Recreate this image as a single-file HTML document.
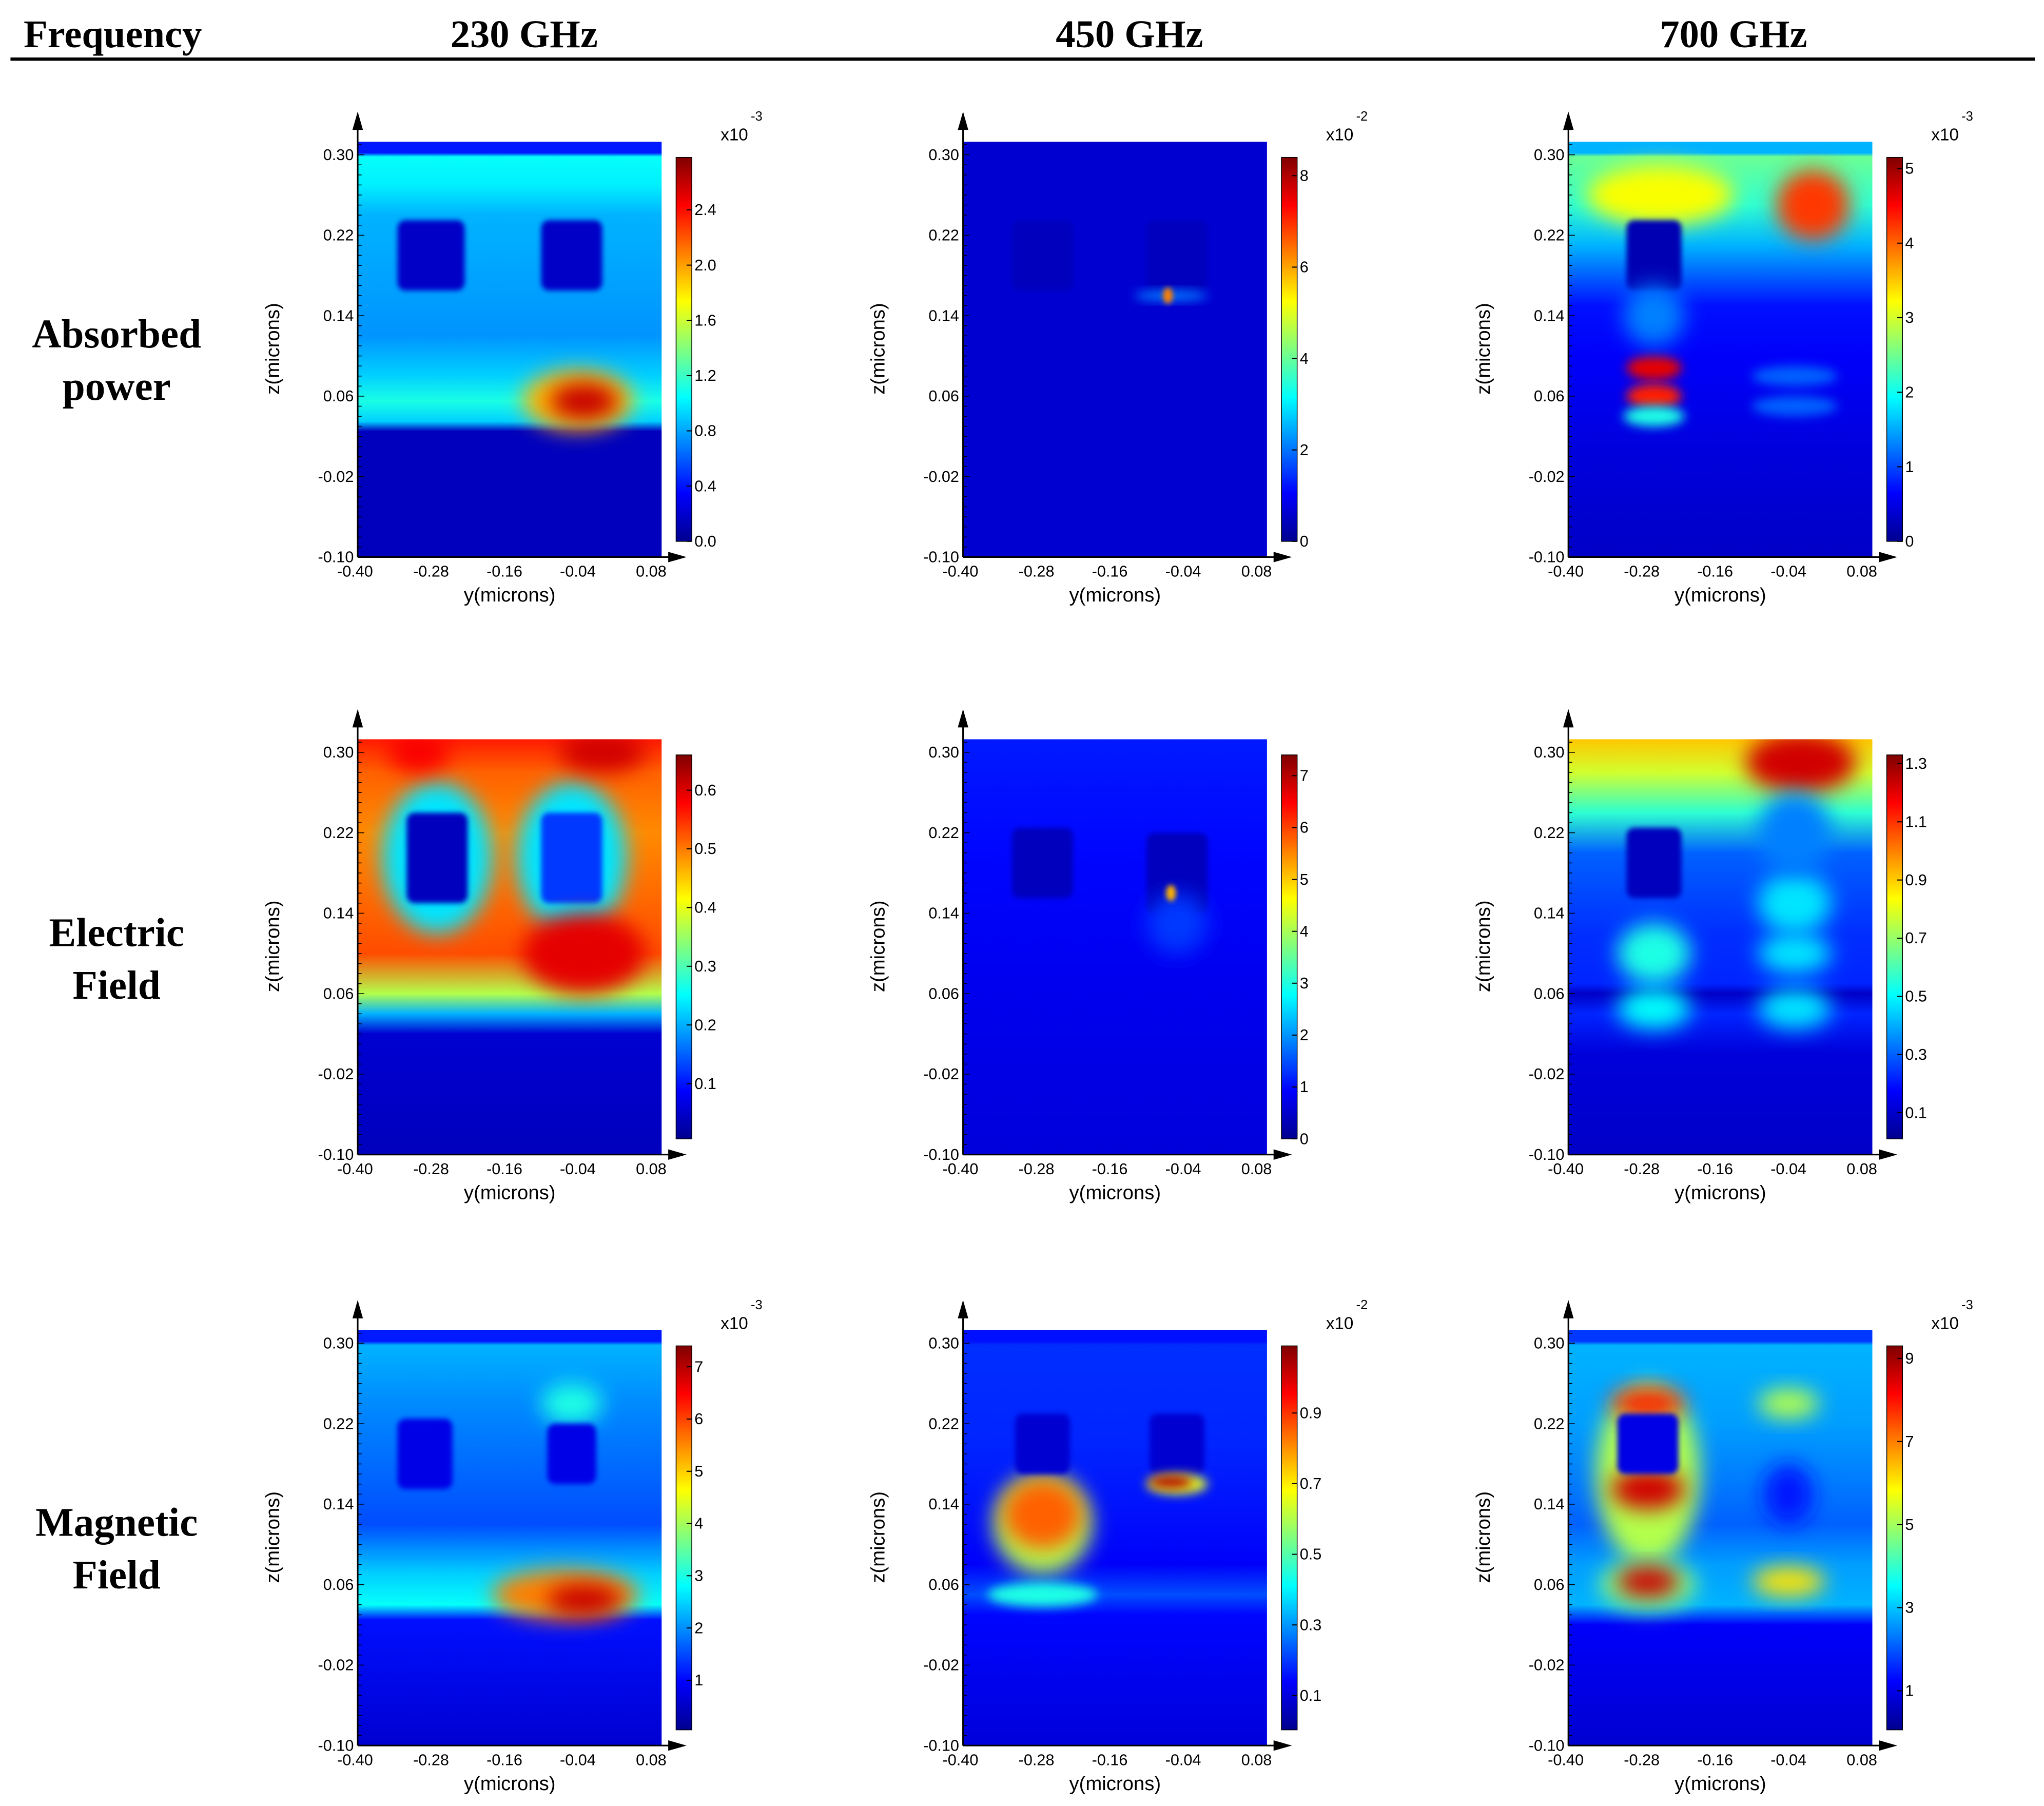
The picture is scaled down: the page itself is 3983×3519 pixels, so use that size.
<!DOCTYPE html>
<html><head><meta charset="utf-8">
<style>
html,body{margin:0;padding:0;background:#fff;}
svg{display:block;}
text{font-family:"Liberation Sans",sans-serif;}
.serif{font-family:"Liberation Serif",serif;font-weight:bold;}
</style></head>
<body>
<svg id="fig" width="3983" height="3519" viewBox="0 0 1560 1378" xmlns="http://www.w3.org/2000/svg">
<defs>
<filter id="b4" x="-50%" y="-50%" width="200%" height="200%"><feGaussianBlur stdDeviation="4"/></filter>
<filter id="b8" x="-50%" y="-50%" width="200%" height="200%"><feGaussianBlur stdDeviation="8"/></filter>
<filter id="b2" x="-50%" y="-50%" width="200%" height="200%"><feGaussianBlur stdDeviation="2"/></filter>
<linearGradient id="jetbar" x1="0" y1="1" x2="0" y2="0">
<stop offset="0" stop-color="#00008f"/><stop offset="0.125" stop-color="#0000ff"/><stop offset="0.375" stop-color="#00ffff"/><stop offset="0.625" stop-color="#ffff00"/><stop offset="0.875" stop-color="#ff0000"/><stop offset="1" stop-color="#800000"/>
</linearGradient>
</defs>
<g id="header">
<text class="serif" x="18" y="36" font-size="30">Frequency</text>
<text class="serif" x="400" y="36" font-size="30" text-anchor="middle">230 GHz</text>
<text class="serif" x="862" y="36" font-size="30" text-anchor="middle">450 GHz</text>
<text class="serif" x="1323" y="36" font-size="30" text-anchor="middle">700 GHz</text>
<line x1="8" y1="45" x2="1553" y2="45" stroke="#000" stroke-width="2.5"/>
<text class="serif" x="89" y="265" font-size="31" text-anchor="middle"><tspan x="89">Absorbed</tspan><tspan x="89" dy="40">power</tspan></text>
<text class="serif" x="89" y="722" font-size="31" text-anchor="middle"><tspan x="89">Electric</tspan><tspan x="89" dy="40">Field</tspan></text>
<text class="serif" x="89" y="1172" font-size="31" text-anchor="middle"><tspan x="89">Magnetic</tspan><tspan x="89" dy="40">Field</tspan></text>
</g>
</svg>
<script>
// axis data
const yTicks = [0.30, 0.22, 0.14, 0.06, -0.02, -0.10];
const xTicks = [-0.40, -0.28, -0.16, -0.04, 0.08];
const colX = [273, 735, 1197];
const rowY = [108, 564, 1015];
// colorbar data
const cbRange = [[0,2.78],[0,8.4],[0,5.15],[0.006,0.66],[0,7.4],[0.01,1.33],[0.05,7.4],[0.003,1.09],[0.06,9.3]];
const cbTicks = [
 ["0.0","0.4","0.8","1.2","1.6","2.0","2.4"],["0","2","4","6","8"],["0","1","2","3","4","5"],
 ["0.1","0.2","0.3","0.4","0.5","0.6"],["0","1","2","3","4","5","6","7"],["0.1","0.3","0.5","0.7","0.9","1.1","1.3"],
 ["1","2","3","4","5","6","7"],["0.1","0.3","0.5","0.7","0.9"],["1","3","5","7","9"]];
const cbExp = ["-3","-2","-3",null,null,null,"-3","-2","-3"];
// background bands: [z, normalized value]
const bands = [
 [[0.313,0.15],[0.302,0.15],[0.298,0.38],[0.27,0.36],[0.24,0.30],[0.12,0.27],[0.08,0.33],[0.055,0.40],[0.035,0.33],[0.025,0.06],[-0.10,0.06]],
 [[0.313,0.08],[-0.10,0.08]],
 [[0.313,0.30],[0.302,0.30],[0.298,0.48],[0.25,0.42],[0.21,0.30],[0.15,0.14],[0.10,0.12],[0.0,0.09],[-0.10,0.07]],
 [[0.313,0.85],[0.28,0.78],[0.22,0.74],[0.10,0.80],[0.06,0.55],[0.04,0.30],[0.02,0.08],[-0.10,0.06]],
 [[0.313,0.15],[0.20,0.13],[0.08,0.11],[-0.10,0.09]],
 [[0.313,0.68],[0.28,0.58],[0.24,0.42],[0.20,0.22],[0.12,0.17],[0.07,0.16],[0.06,0.07],[0.04,0.16],[0.0,0.09],[-0.10,0.07]],
 [[0.313,0.15],[0.302,0.15],[0.298,0.30],[0.24,0.26],[0.12,0.20],[0.07,0.33],[0.04,0.38],[0.025,0.14],[-0.10,0.08]],
 [[0.313,0.14],[0.302,0.14],[0.298,0.17],[0.20,0.16],[0.08,0.12],[0.05,0.20],[0.03,0.13],[-0.10,0.09]],
 [[0.313,0.18],[0.302,0.18],[0.298,0.30],[0.22,0.28],[0.12,0.22],[0.08,0.28],[0.04,0.30],[0.02,0.12],[-0.10,0.08]]];
// features: [y, z, ry, rz, value, shape(0 ellipse,1 rect)]
const blobs = [
 [[-0.28,0.20,0.055,0.035,0.07,1],[-0.05,0.20,0.05,0.035,0.07,1],[-0.04,0.056,0.09,0.03,0.70,0],[-0.03,0.055,0.055,0.018,0.93,0]],
 [[-0.27,0.20,0.05,0.035,0.06,1],[-0.05,0.20,0.05,0.035,0.06,1],[-0.06,0.16,0.06,0.005,0.25,0],[-0.065,0.16,0.008,0.008,0.75,0]],
 [[-0.25,0.26,0.12,0.03,0.62,0],[0.0,0.25,0.06,0.035,0.82,0],[-0.26,0.20,0.045,0.035,0.05,1],[-0.26,0.088,0.045,0.012,0.90,0],[-0.26,0.06,0.045,0.012,0.85,0],[-0.26,0.04,0.05,0.01,0.40,0],[-0.03,0.08,0.07,0.01,0.22,0],[-0.03,0.05,0.07,0.01,0.22,0],[-0.26,0.14,0.05,0.03,0.25,0]],
 [[-0.27,0.195,0.09,0.075,0.35,0],[-0.27,0.195,0.05,0.045,0.06,1],[-0.05,0.195,0.09,0.075,0.35,0],[-0.05,0.195,0.05,0.045,0.18,1],[-0.03,0.10,0.10,0.04,0.90,0],[0.0,0.30,0.07,0.02,0.92,0],[-0.30,0.30,0.05,0.02,0.88,0]],
 [[-0.27,0.19,0.05,0.035,0.06,1],[-0.05,0.18,0.05,0.04,0.06,1],[-0.05,0.13,0.05,0.03,0.18,0],[-0.06,0.16,0.008,0.008,0.70,0]],
 [[-0.02,0.29,0.09,0.03,0.92,0],[-0.26,0.19,0.045,0.035,0.06,1],[-0.26,0.10,0.06,0.03,0.40,0],[-0.26,0.045,0.06,0.02,0.38,0],[-0.03,0.15,0.06,0.03,0.35,0],[-0.03,0.10,0.06,0.02,0.35,0],[-0.03,0.045,0.06,0.02,0.35,0],[-0.03,0.22,0.06,0.04,0.25,0]],
 [[-0.29,0.19,0.045,0.035,0.10,1],[-0.05,0.24,0.05,0.02,0.40,0],[-0.05,0.19,0.04,0.03,0.10,1],[-0.06,0.05,0.12,0.025,0.75,0],[-0.03,0.045,0.06,0.015,0.93,0]],
 [[-0.27,0.12,0.08,0.05,0.55,0],[-0.27,0.13,0.065,0.035,0.78,0],[-0.27,0.20,0.045,0.03,0.08,1],[-0.05,0.20,0.045,0.03,0.08,1],[-0.05,0.16,0.05,0.01,0.60,0],[-0.06,0.162,0.035,0.006,0.95,0],[-0.27,0.05,0.09,0.012,0.40,0]],
 [[-0.27,0.17,0.085,0.09,0.55,0],[-0.27,0.155,0.06,0.02,0.92,0],[-0.27,0.24,0.06,0.015,0.85,0],[-0.27,0.20,0.05,0.03,0.10,1],[-0.27,0.06,0.08,0.025,0.50,0],[-0.27,0.063,0.05,0.015,0.92,0],[-0.04,0.063,0.06,0.015,0.65,0],[-0.04,0.24,0.05,0.015,0.55,0],[-0.04,0.15,0.04,0.03,0.15,0]]];

const NS="http://www.w3.org/2000/svg";
const svg=document.getElementById('fig');
function jet(v){v=Math.max(0,Math.min(1,v));
 const r=Math.min(4*v-1.5,-4*v+4.5),g=Math.min(4*v-0.5,-4*v+3.5),b=Math.min(4*v+0.5,-4*v+2.5);
 const c=x=>Math.round(255*Math.max(0,Math.min(1,x)));return `rgb(${c(r)},${c(g)},${c(b)})`;}
function mk(tag,attrs,parent){const e=document.createElementNS(NS,tag);for(const k in attrs)e.setAttribute(k,attrs[k]);parent.appendChild(e);return e;}
const names=["absorbed-230","absorbed-450","absorbed-700","electric-230","electric-450","electric-700","magnetic-230","magnetic-450","magnetic-700"];
for(let p=0;p<9;p++){
 const ox=colX[p%3],oy=rowY[Math.floor(p/3)];
 const X=y=>ox+(y+0.40)/0.48*224, Y=z=>oy+10+(0.30-z)/0.40*307;
 const g=mk('g',{},svg);
 
 
 const cid='clip'+p;
 const cp=mk('clipPath',{id:cid},g);mk('rect',{x:ox,y:oy,width:232,height:317},cp);
 const gid='bg'+p;
 const lg=mk('linearGradient',{id:gid,x1:0,y1:oy,x2:0,y2:oy+317,gradientUnits:'userSpaceOnUse'},g);
 bands[p].forEach(b=>mk('stop',{offset:((Y(b[0])-oy)/317).toFixed(4),'stop-color':jet(b[1])},lg));
 const hm=mk('g',{'clip-path':`url(#${cid})`},g);
 
 
 mk('rect',{x:ox,y:oy,width:232,height:317,fill:`url(#${gid})`},hm);
 blobs[p].forEach(b=>{
  const rx=b[2]/0.48*224, ry=b[3]/0.40*307;
  let e;
  if(b[5]===1){
   e=mk('rect',{x:X(b[0])-rx,y:Y(b[1])-ry,width:2*rx,height:2*ry,rx:6,fill:jet(b[4]),filter:'url(#b2)'},hm);
  } else {
   e=mk('ellipse',{cx:X(b[0]),cy:Y(b[1]),rx:rx,ry:ry,fill:jet(b[4]),filter:(rx<6?'url(#b2)':(ry<10?'url(#b4)':'url(#b8)'))},hm);
  }
  
  
 });
 const ax=mk('g',{},g);
 
 
 mk('line',{x1:ox,y1:oy+317,x2:ox,y2:oy-15,stroke:'#000','stroke-width':1.2},ax);
 mk('polygon',{points:`${ox-4},${oy-9} ${ox+4},${oy-9} ${ox},${oy-23}`,fill:'#000'},ax);
 mk('line',{x1:ox,y1:oy+317,x2:ox+242,y2:oy+317,stroke:'#000','stroke-width':1.2},ax);
 mk('polygon',{points:`${ox+237},${oy+313} ${ox+237},${oy+321} ${ox+251},${oy+317}`,fill:'#000'},ax);
 for(let k=0;k<=41;k++){const z=-0.10+k*0.01;const yy=Y(z);const big=(k%8===0);
  mk('line',{x1:ox,y1:yy,x2:ox+(big?5:3),y2:yy,stroke:'#000','stroke-width':0.6},ax);}
 yTicks.forEach(t=>{const tx=mk('text',{x:ox-3,y:Y(t)+4,'font-size':12,'text-anchor':'end'},ax);tx.textContent=t.toFixed(2);
  });
 xTicks.forEach(t=>{const tx=mk('text',{x:X(t)+(t===-0.40?-2:0),y:oy+332,'font-size':12,'text-anchor':'middle'},ax);tx.textContent=t.toFixed(2);
  });
 const xl=mk('text',{x:ox+116,y:oy+351,'font-size':15,'text-anchor':'middle'},ax);xl.textContent='y(microns)';
 
 const yl=mk('text',{x:ox-60,y:oy+158,'font-size':15,'text-anchor':'middle',transform:`rotate(-90 ${ox-60} ${oy+158})`},ax);yl.textContent='z(microns)';
 
 const cb=mk('g',{},g);
 
 
 const cx=ox+243, ct=oy+12, cbh=293;
 mk('rect',{x:cx,y:ct,width:12,height:cbh,fill:'url(#jetbar)',stroke:'#000','stroke-width':0.6},cb);
 const [mn,mx]=cbRange[p];
 cbTicks[p].forEach(s=>{const v=parseFloat(s);const yy=ct+cbh-(v-mn)/(mx-mn)*cbh;
  mk('line',{x1:cx+8,y1:yy,x2:cx+12,y2:yy,stroke:'#000','stroke-width':0.8},cb);
  const tx=mk('text',{x:cx+14,y:yy+4,'font-size':12},cb);tx.textContent=s;
  });
 if(cbExp[p]){const tx=mk('text',{x:ox+277,y:oy-1,'font-size':13},cb);tx.textContent='x10';
  
  const ex=mk('text',{x:ox+300,y:oy-16,'font-size':10},cb);ex.textContent=cbExp[p];
  }
}
</script>
</body></html>
